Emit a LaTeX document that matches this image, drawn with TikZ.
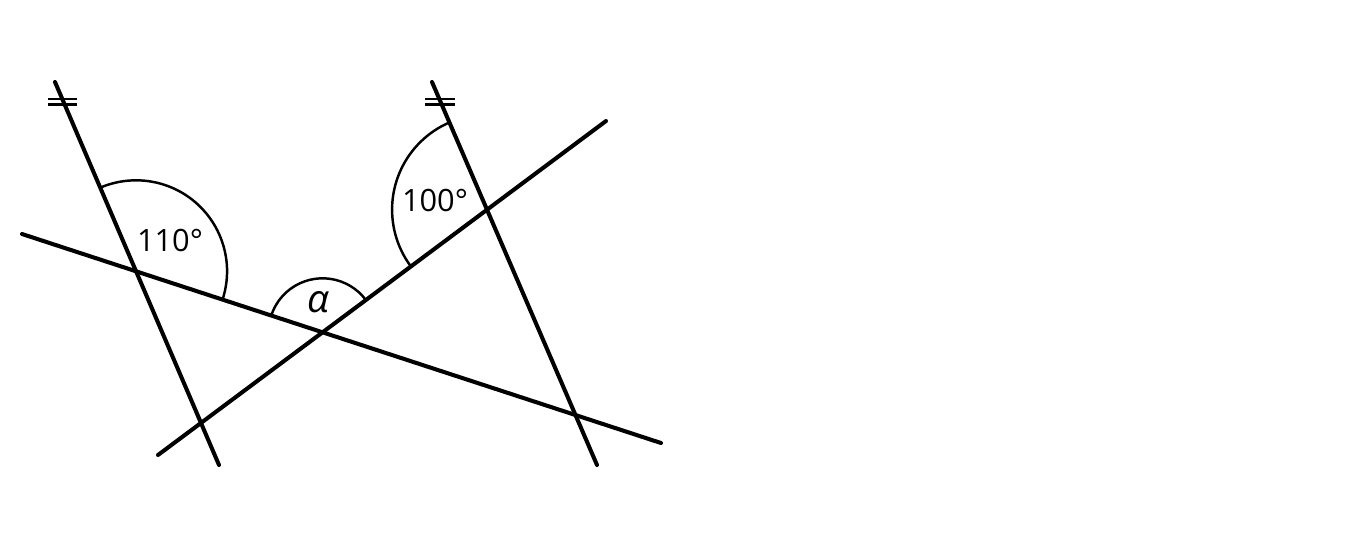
\documentclass[tikz,border=0pt]{standalone}
\usepackage{fontspec}
\setmainfont{Open Sans}
\begin{document}
\begin{tikzpicture}[x=0.02cm,y=0.02cm,
  mainline/.style={line width=2.3pt,line cap=round},
  anglearc/.style={line width=1.4pt},
  tickmark/.style={line width=1.4pt},
  lbl/.style={font=\fontsize{17.5}{20}\selectfont,inner sep=0pt}]
\useasboundingbox (0,0) rectangle (1372,539);
% end points
\coordinate (A1) at (55,457);  \coordinate (A2) at (219,74);
\coordinate (B1) at (432,457); \coordinate (B2) at (597,74);
\coordinate (C1) at (22,305);  \coordinate (C2) at (661,96);
\coordinate (D1) at (158,84);  \coordinate (D2) at (606,418);
% intersections
\coordinate (AC) at (intersection of A1--A2 and C1--C2);
\coordinate (BD) at (intersection of B1--B2 and D1--D2);
\coordinate (CD) at (intersection of C1--C2 and D1--D2);
% lines
\draw[mainline] (A1) -- (A2);
\draw[mainline] (B1) -- (B2);
\draw[mainline] (C1) -- (C2);
\draw[mainline] (D1) -- (D2);
% tick marks
\draw[tickmark] (48,440) -- (77,440);
\draw[tickmark] (48,434.5) -- (77,434.5);
\draw[tickmark] (425,440) -- (455,440);
\draw[tickmark] (425,434.5) -- (455,434.5);
% angle arcs
\draw[anglearc] ([shift={(-18.11:91)}]AC) arc[start angle=-18.11,end angle=113.17,radius=91];
\draw[anglearc] ([shift={(113.30:95)}]BD) arc[start angle=113.30,end angle=216.70,radius=95];
\draw[anglearc] ([shift={(36.70:54)}]CD) arc[start angle=36.70,end angle=161.89,radius=54];
% labels
\node[lbl] (l110) at (170,299) {110°};
\node[lbl] (l100) at (435,339) {100°};
\node[lbl,font=\fontsize{22}{24}\selectfont] (lalpha) at (318,237) {\itshape α};
\end{tikzpicture}
\end{document}
